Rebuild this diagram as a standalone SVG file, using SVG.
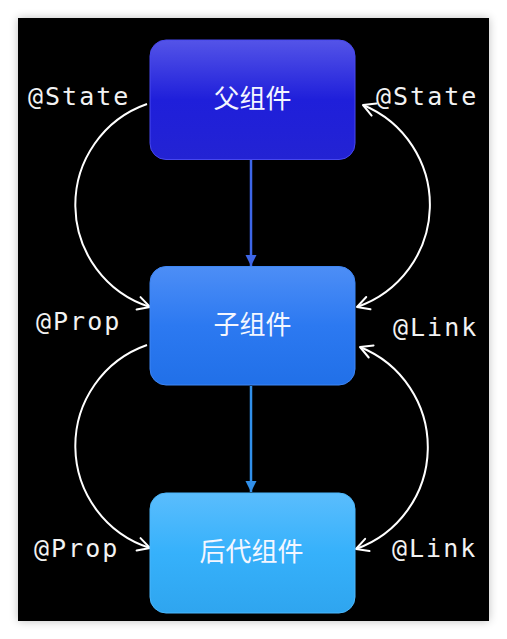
<svg xmlns="http://www.w3.org/2000/svg" width="507" height="639" viewBox="0 0 507 639">
<defs>
<filter id="sh" x="-10%" y="-10%" width="120%" height="120%">
<feGaussianBlur stdDeviation="5"/>
</filter>
<linearGradient id="g1" x1="0" y1="0" x2="0" y2="1">
<stop offset="0" stop-color="#5454e8"/>
<stop offset="0.5" stop-color="#1f1fda"/>
<stop offset="1" stop-color="#2323d3"/>
</linearGradient>
<linearGradient id="g2" x1="0" y1="0" x2="0" y2="1">
<stop offset="0" stop-color="#4d8ef6"/>
<stop offset="0.5" stop-color="#2c79f1"/>
<stop offset="1" stop-color="#2170e8"/>
</linearGradient>
<linearGradient id="g3" x1="0" y1="0" x2="0" y2="1">
<stop offset="0" stop-color="#5abdfd"/>
<stop offset="0.5" stop-color="#36b1fb"/>
<stop offset="1" stop-color="#2fa5ef"/>
</linearGradient>
<marker id="chev" markerUnits="userSpaceOnUse" markerWidth="20" markerHeight="20" viewBox="-14 -10 20 20" refX="0" refY="0" orient="auto-start-reverse">
<path d="M-12,-6.5 L0,0 L-12,6.5" fill="none" stroke="#ffffff" stroke-width="2" stroke-linecap="round" stroke-linejoin="round"/>
</marker>
<marker id="tri1" markerUnits="userSpaceOnUse" markerWidth="14" markerHeight="14" viewBox="-12 -7 14 14" refX="0" refY="0" orient="auto">
<path d="M-11,-5.5 L0,0 L-11,5.5 Z" fill="#3d66e8"/>
</marker>
<marker id="tri2" markerUnits="userSpaceOnUse" markerWidth="14" markerHeight="14" viewBox="-12 -7 14 14" refX="0" refY="0" orient="auto">
<path d="M-11,-5.5 L0,0 L-11,5.5 Z" fill="#3190ea"/>
</marker>
</defs>
<style>
.node rect { stroke-width: 1; }
.ntext { font-family: "Noto Sans CJK SC", "Noto Sans", sans-serif; font-size: 26px; fill: #f4f6ff; text-anchor: middle; }
.lbl { font-family: "DejaVu Sans Mono", "Liberation Mono", monospace; font-size: 25px; fill: #f2f2f2; letter-spacing: 2px; }
.curve { fill: none; stroke: #ffffff; stroke-width: 2; }
</style>
<rect x="0" y="0" width="507" height="639" fill="#ffffff"/>
<rect x="18" y="18" width="471" height="603" fill="#000000" opacity="0.25" filter="url(#sh)"/>
<rect x="18" y="18" width="471" height="603" fill="#000000"/>

<g id="connectors">
<line x1="251" y1="160" x2="251" y2="266" stroke="#3d66e8" stroke-width="2.5" marker-end="url(#tri1)"/>
<line x1="251" y1="386" x2="251" y2="492" stroke="#3190ea" stroke-width="2.5" marker-end="url(#tri2)"/>
<path class="curve" d="M147,104 A107,107 0 0 0 150,307" marker-end="url(#chev)"/>
<path class="curve" d="M147,345 A107,107 0 0 0 150,548" marker-end="url(#chev)"/>
<path class="curve" d="M363,105 A108,108 0 0 1 357,307" marker-start="url(#chev)" marker-end="url(#chev)"/>
<path class="curve" d="M360,347 A108,108 0 0 1 356,549" marker-start="url(#chev)" marker-end="url(#chev)"/>
</g>

<g id="node-parent" class="node">
<rect x="150" y="40" width="205" height="119.5" rx="16" fill="url(#g1)" stroke="#4848ee"/>
<text class="ntext" x="252.5" y="108">父组件</text>
</g>
<g id="node-child" class="node">
<rect x="150" y="266.5" width="205" height="118.5" rx="16" fill="url(#g2)" stroke="#3f86f4"/>
<text class="ntext" x="252.5" y="334">子组件</text>
</g>
<g id="node-descendant" class="node">
<rect x="150" y="493" width="205" height="120" rx="16" fill="url(#g3)" stroke="#4bb6fb"/>
<text class="ntext" x="251.5" y="561">后代组件</text>
</g>

<g id="labels">
<text class="lbl" x="28" y="105">@State</text>
<text class="lbl" x="376" y="105">@State</text>
<text class="lbl" x="36" y="330">@Prop</text>
<text class="lbl" x="393" y="336">@Link</text>
<text class="lbl" x="34" y="557">@Prop</text>
<text class="lbl" x="392" y="557">@Link</text>
</g>
</svg>
